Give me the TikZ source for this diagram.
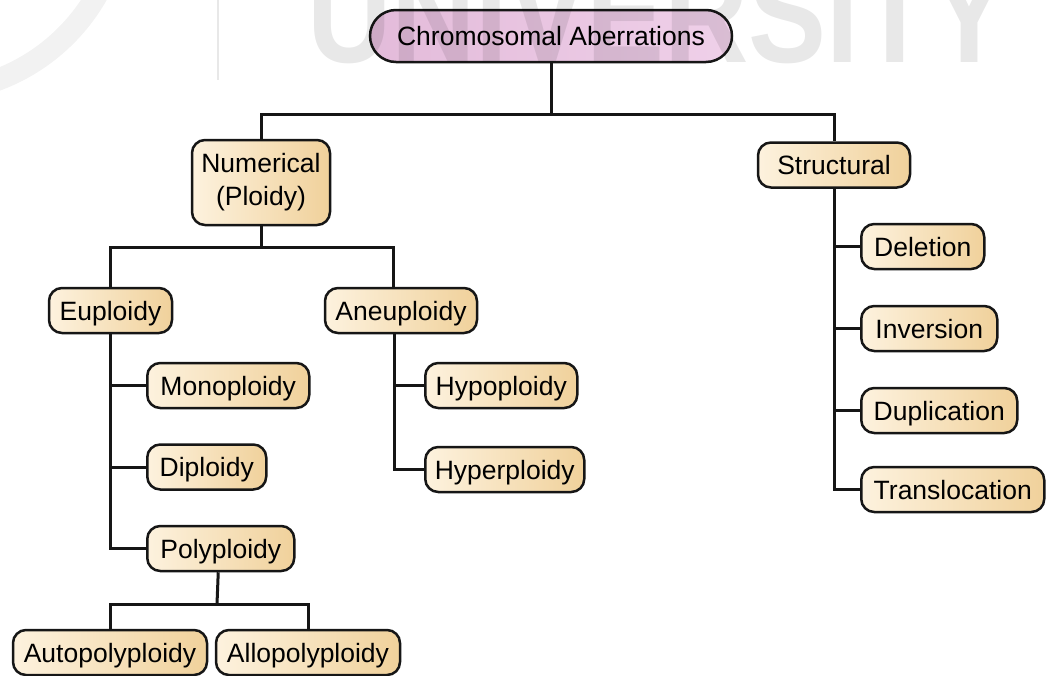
\documentclass[tikz,border=0pt]{standalone}
\usepackage{fontspec}
\setmainfont{Liberation Sans}
\usetikzlibrary{positioning}
\definecolor{tanL}{HTML}{FDF2DE}
\definecolor{tanR}{HTML}{F0D19B}
\definecolor{pinkL}{HTML}{E3BBDA}
\definecolor{pinkR}{HTML}{EFD0E9}
\definecolor{edge}{HTML}{161616}
\tikzset{
  box/.style={draw=edge, line width=2.5pt, rounded corners=13pt,
    left color=tanL, right color=tanR,
    font=\fontsize{26.5}{33}\selectfont, inner xsep=6pt, inner ysep=0pt,
    minimum height=45pt, text height=19pt, text depth=0pt},
  topbox/.style={box, rounded corners=26pt, left color=pinkL, right color=pinkR,
    minimum height=52pt},
  twoline/.style={box, align=center, text height=, text depth=, minimum height=85pt},
  conn/.style={draw=edge, line width=3pt},
  wmark/.style={opacity=0.09}
}
\begin{document}
\begin{tikzpicture}[x=1pt,y=-1pt]
\useasboundingbox (0,0) rectangle (1054,675);
% faint background logo parts
\begin{scope}
\clip (0,0) rectangle (1054,675);
\draw[black, opacity=0.05, line width=22pt] (-70,-100) circle (192);
\draw[black, opacity=0.09, line width=1.8pt] (218,0) -- (218,80);
\end{scope}
% nodes
\node[topbox, minimum width=362pt] (top) at (551,36) {Chromosomal Aberrations};
\node[twoline, minimum width=138pt] (num) at (261,182.5) {Numerical\\(Ploidy)};
\node[box, minimum width=152pt] (struct) at (834,165) {Structural};
\node[box, minimum width=123pt] (eup) at (110.5,310.5) {Euploidy};
\node[box, minimum width=152pt] (aneu) at (401,310.5) {Aneuploidy};
\node[box, minimum width=162pt, anchor=west] (mono) at (146,385.5) {Monoploidy};
\node[box, minimum width=119pt, anchor=west] (dip) at (146,467) {Diploidy};
\node[box, minimum width=147pt, anchor=west] (poly) at (146,548.5) {Polyploidy};
\node[box, minimum width=152pt, anchor=west] (hypo) at (424,385.5) {Hypoploidy};
\node[box, minimum width=159pt, anchor=west] (hyper) at (424,469.5) {Hyperploidy};
\node[box, minimum width=123pt, anchor=west] (del) at (860,246.5) {Deletion};
\node[box, minimum width=136pt, anchor=west] (inv) at (860,328.5) {Inversion};
\node[box, minimum width=156pt, anchor=west] (dup) at (860,410.5) {Duplication};
\node[box, minimum width=183pt, anchor=west] (trans) at (860,489.5) {Translocation};
\node[box, minimum width=194pt] (auto) at (110,652.5) {Autopolyploidy};
\node[box, minimum width=184pt] (allo) at (308,652.5) {Allopolyploidy};
% junctions
\coordinate (j1) at (551,114);
\coordinate (j2) at (261,247);
\coordinate (j3) at (217,604);
% connectors
\draw[conn] (top.south) -- (j1);
\draw[conn] (num.north) |- (j1) -| (struct.north);
\draw[conn] (num.south) -- (j2);
\draw[conn] (eup.north) |- (j2) -| ([xshift=-8pt]aneu.north);
\draw[conn] ([xshift=-0.5pt]eup.south) |- (poly.west);
\draw[conn] ([xshift=-0.5pt]eup.south |- mono.west) -- (mono.west);
\draw[conn] ([xshift=-0.5pt]eup.south |- dip.west) -- (dip.west);
\draw[conn] ([xshift=-7pt]aneu.south) |- (hyper.west);
\draw[conn] ([xshift=-7pt]aneu.south |- hypo.west) -- (hypo.west);
\draw[conn] (struct.south) |- (trans.west);
\draw[conn] (struct.south |- del.west) -- (del.west);
\draw[conn] (struct.south |- inv.west) -- (inv.west);
\draw[conn] (struct.south |- dup.west) -- (dup.west);
\draw[conn] ([xshift=-2.5pt]poly.south) -- (j3);
\draw[conn] (auto.north) |- (j3) -| (allo.north);
% watermark
\begin{scope}
\clip (0,0) rectangle (1054,675);
\node[wmark, anchor=base west, inner sep=0pt, xscale=0.835,
  font=\fontsize{140}{140}\selectfont\bfseries] (wm) at (307,62) {UNIVERSITY};
\end{scope}
\end{tikzpicture}
\end{document}
